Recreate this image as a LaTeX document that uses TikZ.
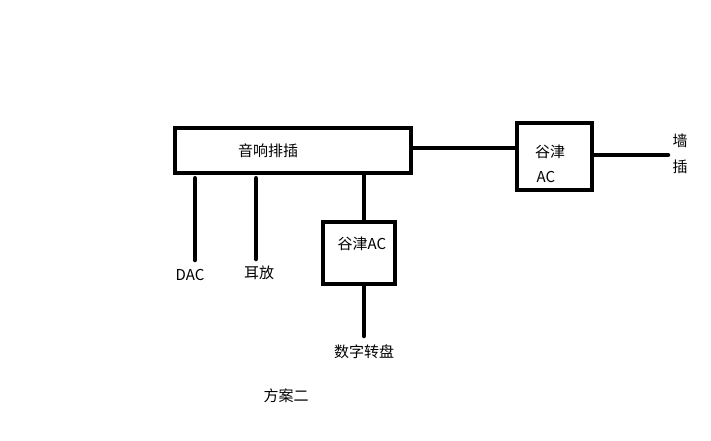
\documentclass[tikz,border=0pt]{standalone}
\usepackage{fontspec}
\newfontfamily\cjk{Noto Sans CJK SC}
\usetikzlibrary{positioning,calc}
\tikzset{
  kasten/.style={rectangle, draw=black, line width=4.5pt, inner sep=0pt},
  wire/.style={draw=black, line width=4.5pt, line cap=round},
  lbl/.style={font=\cjk\fontsize{15}{17}\selectfont, inner sep=0pt},
}

\begin{document}
\begin{tikzpicture}[x=1pt, y=-1pt]
    \useasboundingbox (0,0) rectangle (711,440);
    % boxes
    \node[kasten, minimum width=236pt, minimum height=45pt] (paichai) at (293,150.5) {};
    \node[kasten, minimum width=75pt, minimum height=67pt] (gujin) at (554.5,156.5) {};
    \node[kasten, minimum width=72pt, minimum height=62pt] (gujinb) at (359,253) {};
    % texts
    \node[lbl] (tpaichai) at (268,151) {音响排插};
    \node[lbl] (tgujin) at (550,152) {谷津};
    \node[lbl] (tac) at (546,177) {AC};
    \node[lbl] (tgujinb) at (362,244) {谷津AC};
    \node[lbl] (tqiang) at (680,141) {墙};
    \node[lbl] (tcha) at (680,167) {插};
    \node[lbl] (tdac) at (190,275) {DAC};
    \node[lbl] (terfang) at (259,273) {耳放};
    \node[lbl] (tzhuanpan) at (364,352) {数字转盘};
    \node[lbl] (tfangan) at (286,396) {方案二};
    % free ends
    \coordinate (edac) at (195,260);
    \coordinate (eerfang) at (256,259);
    \coordinate (ezhuanpan) at (364,336);
    \coordinate (ewand) at (668,155);
    % wires
    \draw[wire, line cap=butt] (paichai.east |- 0,148) -- (gujin.west |- 0,148);
    \draw[wire] (gujin.east |- ewand) -- (ewand);
    \draw[wire] (paichai.south -| edac) ++(0,3) -- (edac);
    \draw[wire] (paichai.south -| eerfang) ++(0,3) -- (eerfang);
    \draw[wire, line cap=butt] (paichai.south -| ezhuanpan) -- (gujinb.north -| ezhuanpan);
    \draw[wire] (gujinb.south -| ezhuanpan) -- (ezhuanpan);
\end{tikzpicture}
\end{document}
